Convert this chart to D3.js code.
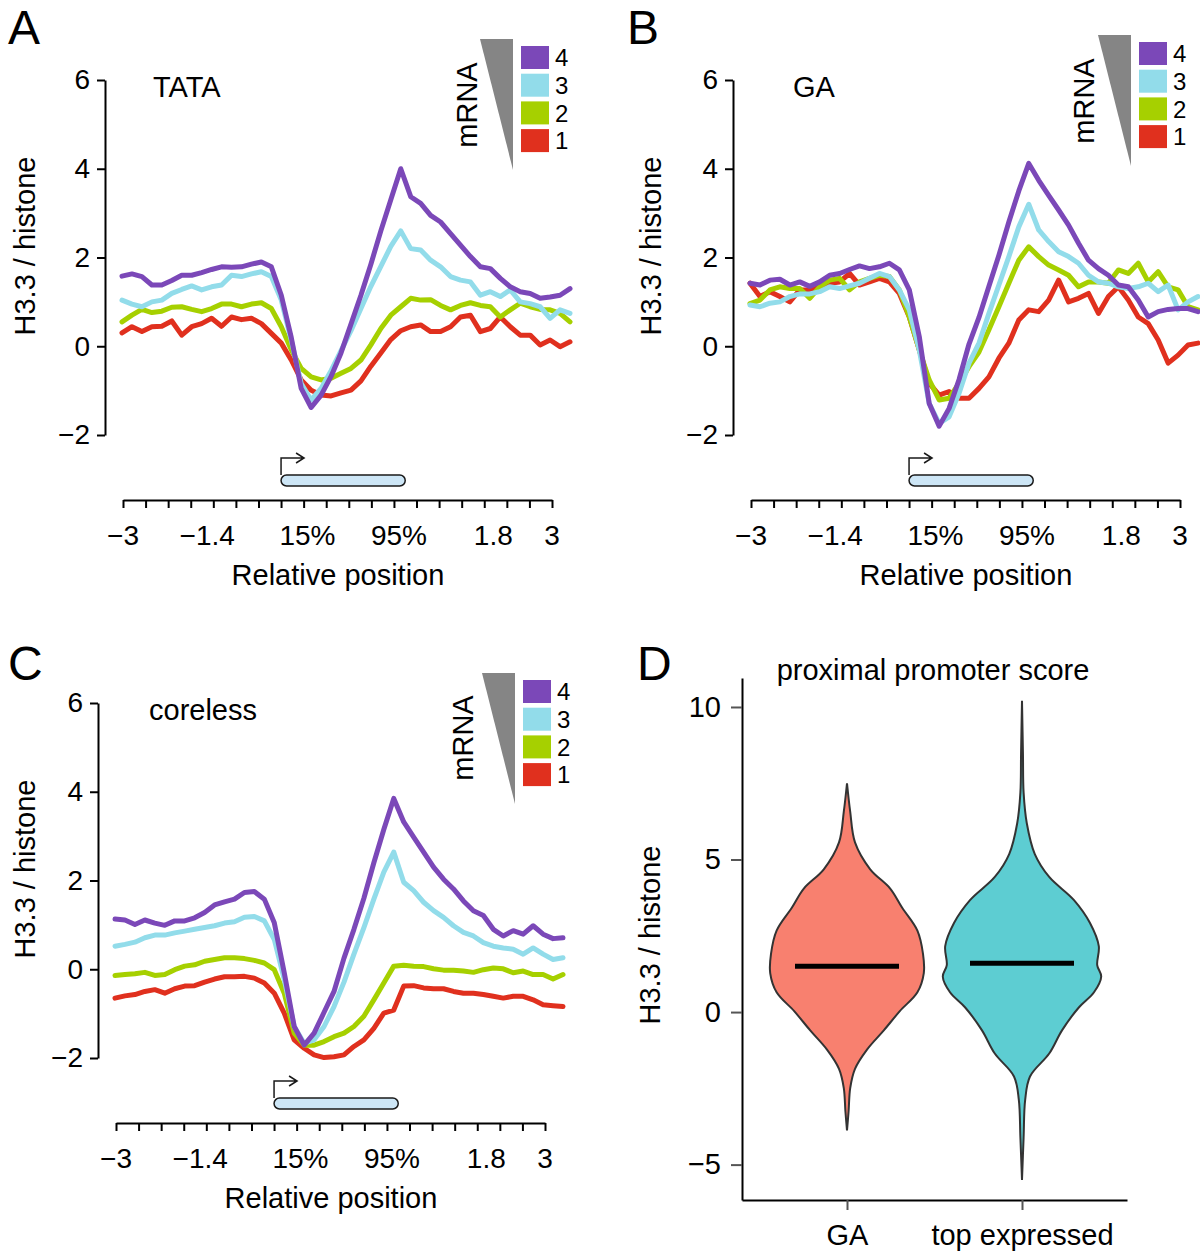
<!DOCTYPE html>
<html><head><meta charset="utf-8">
<script src="https://cdn.jsdelivr.net/npm/d3@7"></script>
<style>
body{margin:0;background:#fff}
svg{display:block}
text{font-family:"Liberation Sans",Arial,Helvetica,sans-serif;fill:#000}
</style>
</head><body>
<svg id="c" width="1200" height="1253"></svg>
<script>
// ---------- data ----------
const seriesNames = ["1","2","3","4"];
const seriesColors = ["#e0301e","#a6d000","#92dcea","#7b48b8"];
const yTicks = [-2,0,2,4,6];
const xTickLabels = ["\u22123","\u22121.4","15%","95%","1.8","3"];
const xTickLabelPos = [0,3.73,8.17,12.22,16.4,19];
const xTickCount = 20;

const tataS1 = [0.30,0.44,0.33,0.44,0.45,0.57,0.25,0.44,0.51,0.63,0.45,0.66,0.60,0.63,0.51,0.29,0.07,-0.31,-0.76,-0.99,-1.10,-1.12,-1.05,-0.99,-0.78,-0.45,-0.15,0.15,0.35,0.44,0.48,0.33,0.33,0.44,0.66,0.70,0.33,0.40,0.66,0.44,0.25,0.25,0.03,0.14,-0.01,0.10];
const tataS2 = [0.55,0.70,0.83,0.76,0.79,0.88,0.89,0.83,0.78,0.85,0.95,0.95,0.89,0.95,0.98,0.85,0.44,-0.08,-0.50,-0.69,-0.76,-0.72,-0.61,-0.50,-0.31,0.03,0.40,0.70,0.89,1.08,1.04,1.05,0.92,0.82,0.92,0.98,0.92,0.89,0.66,0.82,0.97,0.89,0.83,0.82,0.74,0.55];
const tataS3 = [1.04,0.95,0.89,1.0,1.04,1.19,1.28,1.36,1.27,1.34,1.38,1.60,1.57,1.63,1.68,1.57,1.04,0.14,-0.84,-1.21,-0.95,-0.55,-0.1,0.35,0.85,1.35,1.8,2.25,2.6,2.2,2.17,1.94,1.79,1.57,1.49,1.45,1.15,1.23,1.12,1.27,1.0,0.96,0.89,0.63,0.82,0.74];
const tataS4 = [1.58,1.63,1.57,1.38,1.38,1.48,1.60,1.60,1.66,1.73,1.79,1.78,1.79,1.85,1.90,1.79,1.15,0.2,-0.95,-1.38,-1.1,-0.68,-0.15,0.5,1.15,1.85,2.6,3.3,4.0,3.37,3.22,2.95,2.80,2.54,2.28,2.02,1.79,1.75,1.53,1.34,1.23,1.19,1.08,1.11,1.15,1.30];

const gaS1 = [1.42,1.12,1.23,1.12,1.0,1.27,1.27,1.34,1.42,1.45,1.64,1.38,1.45,1.53,1.45,1.19,0.66,-0.08,-0.83,-1.10,-1.02,-1.17,-1.17,-0.95,-0.69,-0.27,0.07,0.59,0.82,0.78,1.04,1.49,1.0,1.08,1.19,0.74,1.12,1.34,1.04,0.66,0.51,0.14,-0.38,-0.20,0.03,0.07];
const gaS2 = [0.96,1.04,1.27,1.34,1.30,1.30,1.08,1.34,1.49,1.53,1.27,1.45,1.53,1.60,1.57,1.27,0.66,-0.08,-0.76,-1.21,-1.17,-0.83,-0.46,-0.13,0.37,0.89,1.42,1.94,2.24,2.02,1.83,1.72,1.60,1.34,1.45,1.45,1.42,1.72,1.64,1.87,1.45,1.68,1.34,1.27,0.89,0.82];
const gaS3 = [0.93,0.89,0.97,1.0,1.12,1.18,1.18,1.23,1.34,1.30,1.36,1.42,1.53,1.64,1.57,1.27,0.82,-0.08,-1.29,-1.74,-1.59,-1.06,-0.38,0.07,0.74,1.38,2.02,2.69,3.2,2.62,2.36,2.13,2.02,1.87,1.60,1.45,1.42,1.34,1.30,1.34,1.42,1.23,1.38,0.82,1.0,1.12];
const gaS4 = [1.42,1.38,1.49,1.51,1.38,1.45,1.35,1.45,1.60,1.64,1.73,1.81,1.75,1.79,1.87,1.72,1.27,0.22,-1.29,-1.8,-1.4,-0.75,0.05,0.65,1.35,2.05,2.8,3.5,4.12,3.74,3.40,3.07,2.73,2.32,1.94,1.75,1.60,1.38,1.34,1.04,0.66,0.78,0.83,0.85,0.85,0.78];

const coreS1 = [-0.65,-0.60,-0.57,-0.50,-0.46,-0.54,-0.44,-0.38,-0.37,-0.29,-0.22,-0.17,-0.17,-0.16,-0.20,-0.31,-0.54,-0.99,-1.59,-1.78,-1.93,-1.99,-1.97,-1.93,-1.74,-1.59,-1.33,-0.99,-0.92,-0.38,-0.37,-0.42,-0.44,-0.44,-0.50,-0.54,-0.54,-0.57,-0.61,-0.65,-0.61,-0.61,-0.69,-0.80,-0.82,-0.84];
const coreS2 = [-0.14,-0.12,-0.10,-0.07,-0.14,-0.12,-0.01,0.07,0.10,0.18,0.22,0.26,0.26,0.24,0.20,0.14,-0.01,-0.54,-1.44,-1.71,-1.71,-1.63,-1.52,-1.44,-1.29,-1.06,-0.69,-0.31,0.07,0.09,0.07,0.06,0.01,-0.02,-0.02,-0.04,-0.07,-0.01,0.03,0.01,-0.08,-0.04,-0.12,-0.12,-0.22,-0.12];
const coreS3 = [0.52,0.56,0.61,0.71,0.77,0.77,0.82,0.86,0.90,0.94,0.98,1.04,1.07,1.17,1.19,1.09,0.67,-0.23,-1.29,-1.67,-1.59,-1.29,-0.84,-0.29,0.34,0.94,1.58,2.19,2.64,1.96,1.77,1.51,1.32,1.17,0.98,0.83,0.75,0.60,0.52,0.48,0.45,0.34,0.48,0.34,0.22,0.26];
const coreS4 = [1.13,1.11,1.01,1.11,1.04,0.99,1.09,1.09,1.16,1.28,1.45,1.52,1.58,1.73,1.75,1.58,1.05,-0.08,-1.29,-1.71,-1.44,-0.97,-0.5,0.25,0.9,1.6,2.4,3.15,3.85,3.32,2.98,2.64,2.30,2.03,1.81,1.54,1.32,1.21,0.90,0.75,0.87,0.79,0.98,0.79,0.69,0.71];

// violin panel D
const violinGroups = ["GA","top expressed"];
const violinColors = ["#f8806f","#5dcdd2"];
const gaViolinValues = [7.5,6.57,5.56,4.68,4.05,3.42,2.67,1.91,1.28,0.65,0.03,-0.60,-1.23,-1.86,-2.49,-3.25,-3.88];
const gaViolinDensity = [0,0.04,0.1,0.29,0.54,0.69,0.88,0.95,0.96,0.88,0.66,0.46,0.25,0.1,0.04,0.02,0];
const topViolinValues = [10.2,8.45,7.2,6.19,5.18,4.43,3.67,2.92,2.16,1.54,1.16,0.65,0.15,-0.60,-1.36,-2.11,-2.87,-4.12,-5.5];
const topViolinDensity = [0,0.012,0.02,0.06,0.16,0.34,0.65,0.85,0.96,0.94,0.99,0.9,0.71,0.5,0.34,0.1,0.04,0.02,0];
const violinMedians = [1.5,1.6];
const dTicks = [-5,0,5,10];

// ---------- drawing ----------
const svg = d3.select("#c");

function drawLinePanel(cfg){
  const g = svg.append("g").attr("transform",`translate(${cfg.dx},${cfg.dy})`);
  const x = d3.scaleLinear().domain([0,19]).range([123,552]);
  const y = d3.scaleLinear().domain([-2,6]).range([435,80]);
  const n = cfg.series[0].length;
  const xi = d3.scaleLinear().domain([0,n-1]).range([x.invert(122), x.invert(570)]);

  // y axis
  const ya = g.append("g").attr("transform","translate(105,0)")
    .call(d3.axisLeft(y).tickValues(yTicks).tickSize(8).tickSizeOuter(0).tickPadding(7).tickFormat(d3.format("d")));
  ya.selectAll("path,line").attr("stroke","#000").attr("stroke-width",2);
  ya.selectAll("text").attr("font-size",28).attr("font-family",'"Liberation Sans",Arial,sans-serif').attr("fill","#000");

  // x axis
  const xa = g.append("g").attr("transform","translate(0,500)")
    .call(d3.axisBottom(x).tickValues(d3.range(xTickCount)).tickSize(8).tickSizeOuter(0).tickFormat(""));
  xa.selectAll("path,line").attr("stroke","#000").attr("stroke-width",2);
  g.selectAll(".xl").data(xTickLabels).enter().append("text")
    .attr("x",(d,i)=>x(xTickLabelPos[i])).attr("y",545)
    .attr("text-anchor","middle").attr("font-size",28).text(d=>d);
  g.append("text").attr("x",338).attr("y",585).attr("text-anchor","middle")
    .attr("font-size",29).text("Relative position");

  // gene diagram
  const gx0 = x(7), gx1 = x(12.5);
  g.append("rect").attr("x",gx0).attr("y",475).attr("width",gx1-gx0).attr("height",11)
    .attr("rx",5.5).attr("fill","#cde6f6").attr("stroke","#1a1a1a").attr("stroke-width",1.5);
  g.append("path").attr("d",`M${gx0},475V458H${gx0+23}M${gx0+15},453L${gx0+23},458L${gx0+15},463`)
    .attr("fill","none").attr("stroke","#1a1a1a").attr("stroke-width",1.5);

  // lines
  const line = d3.line().x((d,i)=>x(xi(i))).y(d=>y(d));
  cfg.series.forEach((s,i)=>{
    g.append("path").datum(s).attr("d",line).attr("fill","none")
      .attr("stroke",seriesColors[i]).attr("stroke-width",5)
      .attr("stroke-linejoin","round").attr("stroke-linecap","round");
  });

  // labels
  g.append("text").attr("x",cfg.labelX).attr("y",97).attr("font-size",29).text(cfg.label);
  g.append("text").attr("transform",`translate(${cfg.ylabX},246) rotate(-90)`)
    .attr("text-anchor","middle").attr("dy","0.35em").attr("font-size",29).text("H3.3 / histone");
}

function drawLegend(tx,ty,mx,my){
  const g = svg.append("g");
  g.append("path").attr("d",`M${tx},${ty}L${tx+33},${ty}L${tx+33},${ty+131}Z`).attr("fill","#858585");
  g.append("text").attr("transform",`translate(${mx},${my}) rotate(-90)`)
    .attr("text-anchor","middle").attr("dy","0.35em").attr("font-size",29).text("mRNA");
  const order = [3,2,1,0];
  order.forEach((si,j)=>{
    g.append("rect").attr("x",tx+41).attr("y",ty+7+j*27.7).attr("width",28).attr("height",23)
      .attr("fill",seriesColors[si]);
    g.append("text").attr("x",tx+75).attr("y",ty+18.5+j*27.7).attr("dy","0.36em")
      .attr("font-size",24).text(seriesNames[si]);
  });
}

drawLinePanel({dx:0,dy:0,series:[tataS1,tataS2,tataS3,tataS4],label:"TATA",labelX:153,ylabX:25});
drawLinePanel({dx:628,dy:0,series:[gaS1,gaS2,gaS3,gaS4],label:"GA",labelX:165,ylabX:23});
drawLinePanel({dx:-7,dy:623,series:[coreS1,coreS2,coreS3,coreS4],label:"coreless",labelX:156,ylabX:32});

drawLegend(480,39,467,105);
drawLegend(1098,35,1084,101);
drawLegend(482,673,463,738);

// panel letters
[["A",8,44],["B",627,44],["C",8,680],["D",637,680]].forEach(d=>{
  svg.append("text").attr("x",d[1]).attr("y",d[2]).attr("font-size",48).text(d[0]);
});

// ---------- panel D ----------
(function(){
  const g = svg.append("g");
  const yD = d3.scaleLinear().domain([-6.16,10.95]).range([1200,678]);
  const xD = d3.scalePoint().domain(violinGroups).range([742,1127]).padding(0.6);
  const wD = d3.scaleLinear().domain([0,1]).range([0,80]);
  const vData = [
    gaViolinValues.map((v,i)=>({v:v,d:gaViolinDensity[i]})),
    topViolinValues.map((v,i)=>({v:v,d:topViolinDensity[i]}))
  ];
  vData.forEach((arr,gi)=>{
    const cx = xD(violinGroups[gi]);
    const area = d3.area().y(d=>yD(d.v)).x0(d=>cx-wD(d.d)).x1(d=>cx+wD(d.d)).curve(d3.curveCatmullRom);
    g.append("path").datum(arr).attr("d",area).attr("fill",violinColors[gi])
      .attr("stroke","#333").attr("stroke-width",2);
    g.append("line").attr("x1",cx-52).attr("x2",cx+52)
      .attr("y1",yD(violinMedians[gi])).attr("y2",yD(violinMedians[gi]))
      .attr("stroke","#000").attr("stroke-width",5);
  });
  const ya = g.append("g").attr("transform","translate(742,0)")
    .call(d3.axisLeft(yD).tickValues(dTicks).tickSize(11).tickPadding(10).tickSizeOuter(0).tickFormat(d3.format("d")));
  ya.select(".domain").attr("stroke","#000").attr("stroke-width",2);
  ya.selectAll(".tick line").attr("stroke","#555").attr("stroke-width",2);
  ya.selectAll("text").attr("font-size",29).attr("font-family",'"Liberation Sans",Arial,sans-serif').attr("fill","#111");
  const xa = g.append("g").attr("transform","translate(0,1200)")
    .call(d3.axisBottom(xD).tickSize(10).tickPadding(14).tickSizeOuter(0));
  xa.select(".domain").attr("stroke","#000").attr("stroke-width",2);
  xa.selectAll(".tick line").attr("stroke","#555").attr("stroke-width",2);
  xa.selectAll("text").attr("font-size",29).attr("font-family",'"Liberation Sans",Arial,sans-serif').attr("fill","#111");
  g.append("text").attr("x",933).attr("y",680).attr("text-anchor","middle").attr("font-size",29).text("proximal promoter score");
  g.append("text").attr("transform","translate(650,935) rotate(-90)").attr("text-anchor","middle")
    .attr("dy","0.35em").attr("font-size",29).text("H3.3 / histone");
})();
</script>
</body></html>
